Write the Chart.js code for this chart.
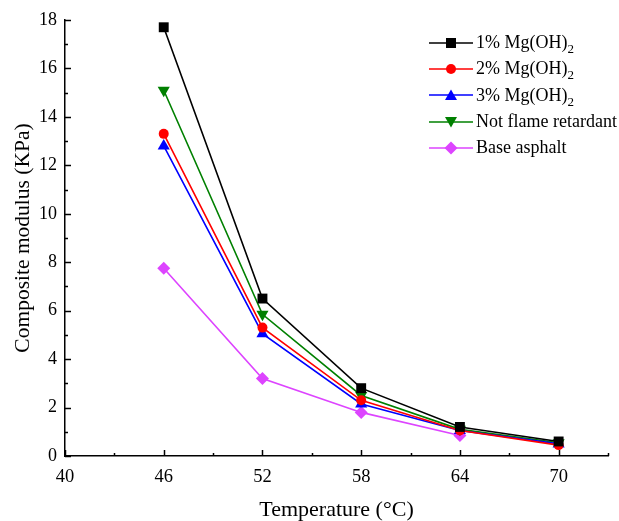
<!DOCTYPE html>
<html>
<head>
<meta charset="utf-8">
<script src="https://cdn.jsdelivr.net/npm/chart.js@4"></script>
<style>
    html, body { margin: 0; padding: 0; background: #fff; }
    #wrap { position: relative; width: 619px; height: 521px; }
    #legend { position: absolute; left: 429px; top: 29.5px; font-family: 'Liberation Serif', serif; font-size: 18px; color: #000; }
    .item { display: flex; align-items: center; height: 26.3px; white-space: nowrap; }
    .item svg { margin-right: 3px; }
    .item sub { font-size: 13px; vertical-align: -5px; line-height: 0; }
</style>
</head>
<body>
<div id="wrap">
    <canvas id="chart" width="619" height="521"></canvas>
    <div id="legend"></div>
</div>
<script>
const temperatures = [46, 52, 58, 64, 70];
const mg1 = [17.7, 6.5, 2.8, 1.2, 0.6];
const mg2 = [13.3, 5.3, 2.3, 1.05, 0.45];
const mg3 = [12.8, 5.05, 2.15, 1.05, 0.5];
const notRetardant = [15.1, 5.85, 2.5, 1.1, 0.55];
const baseAsphalt = [7.75, 3.2, 1.8, 0.85];

const xTicks = [40, 46, 52, 58, 64, 70];
const xMinor = [43, 49, 55, 61, 67, 73];
const yTicks = [0, 2, 4, 6, 8, 10, 12, 14, 16, 18];
const yMinor = [1, 3, 5, 7, 9, 11, 13, 15, 17];

const font = "'Liberation Serif', 'Times New Roman', serif";

const series = [
    { label: '1% Mg(OH)', sub: '2', data: mg1, color: '#000000', point: 'rect', rotation: 0, radius: 7 },
    { label: '2% Mg(OH)', sub: '2', data: mg2, color: '#ff0000', point: 'circle', rotation: 0, radius: 5 },
    { label: '3% Mg(OH)', sub: '2', data: mg3, color: '#0000ff', point: 'triangle', rotation: 0, radius: 7 },
    { label: 'Not flame retardant', sub: '', data: notRetardant, color: '#008000', point: 'triangle', rotation: 180, radius: 7 },
    { label: 'Base asphalt', sub: '', data: baseAsphalt, color: '#dd44ff', point: 'rectRot', rotation: 0, radius: 6.5 },
];

// ticks point into the plot area, like the original
const innerTicks = {
    id: 'innerTicks',
    afterDraw(chart) {
        const { ctx, scales: { x, y } } = chart;
        ctx.save();
        ctx.strokeStyle = '#000';
        ctx.lineWidth = 1.5;
        const xLine = (v, len) => {
            const px = Math.round(x.getPixelForValue(v)) + 0.5;
            ctx.beginPath();
            ctx.moveTo(px, y.bottom);
            ctx.lineTo(px, y.bottom - len);
            ctx.stroke();
        };
        const yLine = (v, len) => {
            const py = Math.round(y.getPixelForValue(v)) + 0.5;
            ctx.beginPath();
            ctx.moveTo(x.left, py);
            ctx.lineTo(x.left + len, py);
            ctx.stroke();
        };
        xTicks.forEach((v) => xLine(v, 6));
        xMinor.forEach((v) => xLine(v, 3));
        yTicks.forEach((v) => yLine(v, 6));
        yMinor.forEach((v) => yLine(v, 3));
        ctx.restore();
    },
};

new Chart(document.getElementById('chart'), {
    type: 'line',
    data: {
        datasets: series.map((s) => ({
            label: s.label + s.sub,
            data: s.data.map((v, i) => ({ x: temperatures[i], y: v })),
            borderColor: s.color,
            backgroundColor: s.color,
            borderWidth: 1.6,
            pointStyle: s.point,
            pointRotation: s.rotation,
            pointRadius: s.radius,
            pointBorderWidth: 0,
            tension: 0,
        })),
    },
    options: {
        responsive: false,
        animation: false,
        layout: { padding: { top: 20, right: 11, left: 0, bottom: 0 } },
        plugins: { legend: { display: false }, tooltip: { enabled: false } },
        scales: {
            x: {
                type: 'linear',
                min: 40,
                max: 73,
                afterBuildTicks: (scale) => { scale.ticks = xTicks.map((v) => ({ value: v })); },
                afterFit: (scale) => { scale.height = 65; },
                grid: { display: false, drawTicks: false },
                border: { display: true, color: '#000', width: 1.5 },
                ticks: { color: '#000', padding: 10, maxRotation: 0, font: { family: font, size: 18.5 } },
                title: { display: true, text: 'Temperature (°C)', color: '#000', padding: { top: 4, bottom: -2.5 }, font: { family: font, size: 22 } },
            },
            y: {
                type: 'linear',
                min: 0,
                max: 18,
                afterBuildTicks: (scale) => { scale.ticks = yTicks.map((v) => ({ value: v })); },
                afterFit: (scale) => { scale.width = 65; },
                grid: { display: false, drawTicks: false },
                border: { display: true, color: '#000', width: 1.5 },
                ticks: { color: '#000', padding: 8, font: { family: font, size: 18 } },
                title: { display: true, text: 'Composite modulus (KPa)', color: '#000', padding: { top: 10, bottom: 0 }, font: { family: font, size: 21.5 } },
            },
        },
    },
    plugins: [innerTicks],
});

// legend with line + marker and subscript text
const legend = document.getElementById('legend');
const markerSvg = (s) => {
    const c = s.color;
    let m = '';
    if (s.point === 'rect') m = `<rect x="17" y="2" width="10" height="10" fill="${c}"/>`;
    else if (s.point === 'circle') m = `<circle cx="22" cy="7" r="5" fill="${c}"/>`;
    else if (s.point === 'rectRot') m = `<polygon points="22,0.5 28.5,7 22,13.5 15.5,7" fill="${c}"/>`;
    else if (s.rotation === 180) m = `<polygon points="16,2 28,2 22,12.5" fill="${c}"/>`;
    else m = `<polygon points="22,1.5 28,12 16,12" fill="${c}"/>`;
    return `<svg width="44" height="14"><line x1="0" y1="7" x2="44" y2="7" stroke="${c}" stroke-width="1.6"/>${m}</svg>`;
};
series.forEach((s) => {
    const row = Object.assign(document.createElement('div'), { className: 'item' });
    row.innerHTML = `${markerSvg(s)}<span>${s.label}${s.sub ? `<sub>${s.sub}</sub>` : ''}</span>`;
    legend.append(row);
});
</script>
</body>
</html>
